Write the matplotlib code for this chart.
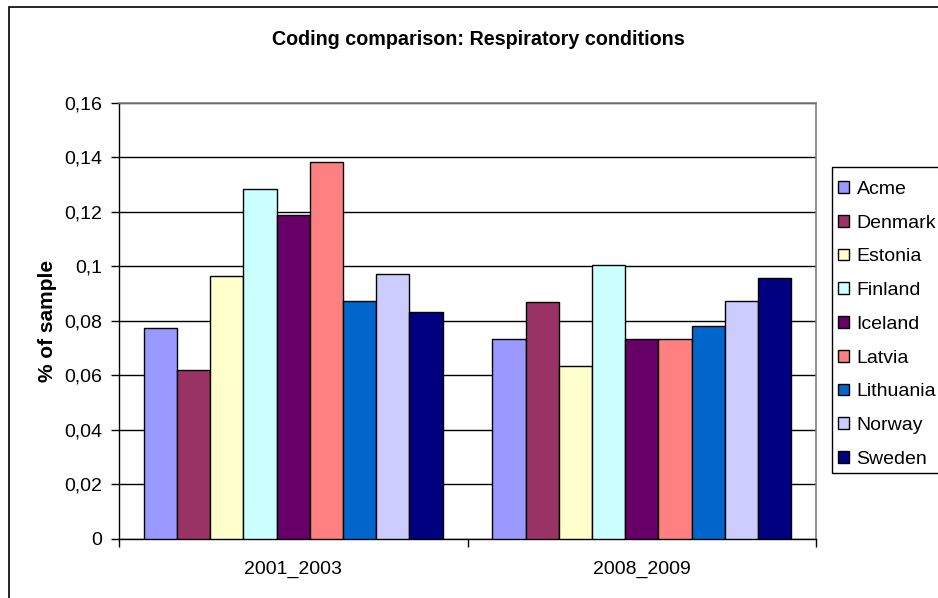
import numpy as np
import matplotlib
matplotlib.use("Agg")
import matplotlib.pyplot as plt
from matplotlib.patches import Rectangle
from matplotlib.ticker import FuncFormatter, MultipleLocator

plt.rcParams['font.family'] = ['Liberation Sans', 'DejaVu Sans']

# data
periods = ['2001_2003', '2008_2009']
countries = ['Acme', 'Denmark', 'Estonia', 'Finland', 'Iceland',
             'Latvia', 'Lithuania', 'Norway', 'Sweden']
values_2001_2003 = [0.0775, 0.0619, 0.0966, 0.1283, 0.1187, 0.1382, 0.0871, 0.0971, 0.0831]
values_2008_2009 = [0.0732, 0.0869, 0.0634, 0.1005, 0.0732, 0.0732, 0.0779, 0.0874, 0.0956]
colors = ['#9999FF', '#993366', '#FFFFCC', '#CCFFFF', '#660066',
          '#FF8080', '#0066CC', '#CCCCFF', '#000080']

W, H = 938, 598
fig = plt.figure(figsize=(W / 100, H / 100), dpi=100)


def px_rect(x0, y0, x1, y1, **kw):
    # rectangle given in pixel coords (y from top)
    r = Rectangle((x0 / W, 1 - y1 / H), (x1 - x0) / W, (y1 - y0) / H,
                  transform=fig.transFigure, fill=False, clip_on=False, **kw)
    fig.patches.append(r)


# outer chart frame (only left/top visible in the image)
px_rect(9, 7, 2000, 2000, edgecolor='black', linewidth=1.2)

left, right, top, bottom = 119, 816, 103, 538.5
ax = fig.add_axes([left / W, 1 - bottom / H, (right - left) / W, (bottom - top) / H])

n = len(countries)
bw = 1 / (n + 1.5)
x = np.arange(len(periods))
data = np.array([values_2001_2003, values_2008_2009])
for i, (c, col) in enumerate(zip(countries, colors)):
    ax.bar(x + (i - (n - 1) / 2) * bw, data[:, i], width=bw, color=col,
           edgecolor='black', linewidth=1, label=c, zorder=3)

ax.set_xlim(-0.5, 1.5)
ax.set_ylim(0, 0.16)
ax.yaxis.set_major_locator(MultipleLocator(0.02))
ax.yaxis.set_major_formatter(FuncFormatter(lambda v, p: ('%g' % round(v, 2)).replace('.', ',')))
ax.grid(axis='y', color='black', linewidth=1, zorder=0)

ax.set_xticks(x)
ax.set_xticklabels(periods)
ax.set_xticks([-0.5, 0.5, 1.5], minor=True)
ax.tick_params(axis='x', which='major', length=0, pad=16, labelsize=14)
ax.tick_params(axis='x', which='minor', length=6, width=1, direction='out')
ax.tick_params(axis='y', length=6, width=1, direction='out', pad=6, labelsize=14)

for s in ['left', 'bottom']:
    ax.spines[s].set_color('black')
    ax.spines[s].set_linewidth(1)
for s in ['top', 'right']:
    ax.spines[s].set_color('#808080')
    ax.spines[s].set_linewidth(1.2)

ax.set_ylabel('% of sample', fontsize=15, fontweight='bold')
ax.yaxis.set_label_coords((57 - left) / (right - left), 0.5)

fig.text(478 / W, 1 - 45 / H, 'Coding comparison: Respiratory conditions',
         ha='center', va='baseline', fontsize=14.2, fontweight='bold')

# legend box runs off the right edge, so the frame is drawn separately
px_rect(832, 167.5, 990, 473, edgecolor='black', linewidth=1)
leg = fig.legend(loc='upper left', bbox_to_anchor=(838 / W, 1 - 181 / H),
                 fontsize=14, frameon=False, borderaxespad=0, borderpad=0,
                 handlelength=0.55, handleheight=0.55, handletextpad=0.4,
                 labelspacing=0.86)

fig.savefig('out.png', dpi=100)
